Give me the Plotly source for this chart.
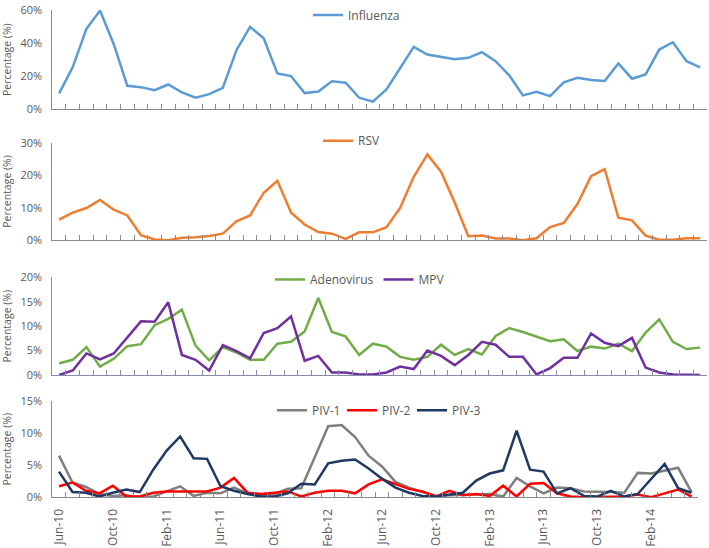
import plotly.graph_objects as go
import pandas as pd

months = pd.date_range("2010-06-01", periods=48, freq="MS").strftime("%b-%y").tolist()
tick_labels = ["Jun-10", "Oct-10", "Feb-11", "Jun-11", "Oct-11", "Feb-12",
               "Jun-12", "Oct-12", "Feb-13", "Jun-13", "Oct-13", "Feb-14"]

influenza = [9.6, 25.5, 48.6, 59.6, 39.5, 14.2, 13.4, 11.6, 15.0, 10.2,
             7.0, 9.2, 13.0, 35.7, 49.8, 42.9, 21.7, 20.1, 9.8, 10.8,
             16.9, 16.1, 7.0, 4.6, 12.0, 24.5, 37.7, 33.1, 31.5, 30.3,
             31.1, 34.5, 29.1, 20.5, 8.4, 10.6, 8.0, 16.3, 19.1, 17.7,
             17.1, 27.7, 18.5, 21.1, 36.1, 40.5, 29.1, 25.3]
rsv = [6.3, 8.5, 9.9, 12.4, 9.4, 7.6, 1.5, 0.2, 0.0, 0.7,
       0.9, 1.3, 2.0, 5.8, 7.6, 14.6, 18.3, 8.5, 4.8, 2.5,
       2.0, 0.4, 2.4, 2.4, 4.0, 9.9, 19.5, 26.4, 21.1, 11.6,
       1.2, 1.4, 0.5, 0.5, 0.0, 0.6, 4.0, 5.3, 11.1, 19.7,
       21.9, 6.9, 6.1, 1.4, 0.1, 0.1, 0.6, 0.6]
adenovirus = [2.4, 3.1, 5.7, 1.7, 3.3, 5.9, 6.3, 10.2, 11.5, 13.4,
              6.0, 3.0, 5.7, 4.6, 3.1, 3.1, 6.4, 6.8, 8.9, 15.8,
              8.8, 7.9, 4.1, 6.4, 5.8, 3.7, 3.1, 3.7, 6.2, 4.1,
              5.3, 4.2, 8.0, 9.6, 8.8, 7.8, 6.9, 7.3, 4.9, 5.8,
              5.4, 6.4, 4.9, 8.7, 11.4, 6.8, 5.3, 5.6]
mpv = [0.0, 0.9, 4.4, 3.2, 4.4, 7.6, 11.0, 10.9, 14.9, 4.1,
       3.1, 0.9, 6.1, 4.9, 3.4, 8.6, 9.6, 12.0, 2.9, 3.9,
       0.5, 0.5, 0.1, 0.1, 0.5, 1.7, 1.2, 5.0, 3.9, 2.0,
       4.1, 6.8, 6.2, 3.7, 3.7, 0.1, 1.4, 3.5, 3.5, 8.5,
       6.6, 5.9, 7.6, 1.5, 0.5, 0.1, 0.0, 0.0]
piv1 = [6.5, 2.3, 1.6, 0.5, 0.2, 0.3, 0.0, 0.1, 0.9, 1.7,
        0.2, 0.7, 0.6, 1.5, 0.6, 0.4, 0.5, 1.3, 1.4, 6.3,
        11.1, 11.3, 9.4, 6.5, 4.8, 2.4, 1.5, 0.8, 0.2, 0.3,
        0.4, 0.4, 0.5, 0.1, 3.0, 1.7, 0.6, 1.5, 1.4, 0.9,
        0.9, 0.8, 0.7, 3.8, 3.7, 4.1, 4.6, 0.8]
piv2 = [1.7, 2.3, 1.0, 0.6, 1.8, 0.1, 0.1, 0.7, 0.9, 0.9,
        1.0, 0.9, 1.5, 3.0, 0.7, 0.5, 0.7, 0.9, 0.1, 0.7,
        1.0, 1.0, 0.6, 2.0, 2.8, 2.1, 1.3, 0.9, 0.1, 1.0,
        0.3, 0.5, 0.2, 1.8, 0.1, 2.1, 2.2, 0.6, 0.1, 0.0,
        0.0, 0.1, 0.1, 0.4, 0.0, 0.6, 1.2, 0.1]
piv3 = [4.0, 0.8, 0.7, 0.1, 0.7, 1.2, 0.8, 4.3, 7.3, 9.5,
        6.1, 6.0, 1.7, 1.0, 0.5, 0.1, 0.1, 0.6, 2.1, 2.0,
        5.3, 5.7, 5.9, 4.5, 2.9, 1.5, 0.7, 0.2, 0.1, 0.4,
        0.7, 2.6, 3.7, 4.2, 10.4, 4.3, 4.0, 0.6, 1.4, 0.2,
        0.1, 1.0, 0.1, 0.5, 2.9, 5.2, 1.4, 0.7]

W, H = 709, 548
FONT = "Open Sans"
TXT = "#595959"
AX = "#8C8C8C"

ticktext = [m if m in tick_labels else "" for m in months]

panels = [
    dict(series=[("Influenza", influenza, "#5B9BD5")], top=60, dtick=20, axc=AX,
         ypx=(5, 105.3), xpx=(52.3, 707), legend=dict(x=308, y=10, ew=None)),
    dict(series=[("RSV", rsv, "#ED7D31")], top=30, dtick=10, axc=AX,
         ypx=(139, 237.3), xpx=(52.3, 707), legend=dict(x=318, y=137, ew=None)),
    dict(series=[("Adenovirus", adenovirus, "#70AD47"), ("MPV", mpv, "#7030A0")],
         top=20, dtick=5, axc="#8A8AAE",
         ypx=(275, 373.3), xpx=(52.3, 707), legend=dict(x=270, y=277, ew=None)),
    dict(series=[("PIV-1", piv1, "#7F7F7F"), ("PIV-2", piv2, "#FF0000"), ("PIV-3", piv3, "#1F3864")],
         top=15, dtick=5, axc=AX,
         ypx=(400, 496.7), xpx=(52.3, 698.3), legend=dict(x=272, y=409, ew=25)),
]

fig = go.Figure()
layout = dict(width=W, height=H, margin=dict(l=0, r=0, t=0, b=0),
              paper_bgcolor="white", plot_bgcolor="white", showlegend=True,
              font=dict(family=FONT, color=TXT), template="none")

for k, p in enumerate(panels, start=1):
    sfx = "" if k == 1 else str(k)
    lg = "legend" if k == 1 else f"legend{k}"
    for name, vals, col in p["series"]:
        fig.add_trace(go.Scatter(x=months, y=vals, mode="lines", name=name,
                                 line=dict(color=col, width=2.5),
                                 xaxis=f"x{sfx}", yaxis=f"y{sfx}", legend=lg))
    y0, y1 = p["ypx"]
    x0, x1 = p["xpx"]
    layout[f"xaxis{sfx}"] = dict(
        type="category", domain=[x0 / W, x1 / W], anchor=f"y{sfx}",
        range=[-0.5, len(months) - 0.5],
        tickmode="array", tickvals=months, ticktext=ticktext,
        tickson="boundaries", ticks="inside", ticklen=5, tickcolor=p["axc"], tickwidth=1,
        showline=True, linecolor=p["axc"], linewidth=1, showgrid=False, zeroline=False,
        showticklabels=(k == 4), tickangle=-90, ticklabelstandoff=6,
        ticklabeloverflow="allow",
        tickfont=dict(family=FONT, size=12, color=TXT), automargin=False)
    layout[f"yaxis{sfx}"] = dict(
        domain=[1 - y1 / H, 1 - y0 / H], anchor=f"x{sfx}",
        range=[0, p["top"]], tickmode="linear", tick0=0, dtick=p["dtick"],
        ticksuffix="%", ticks="", showline=True, linecolor=p["axc"], linewidth=1,
        showgrid=False, zeroline=False, automargin=False,
        ticklabelstandoff=7, ticklabeloverflow="allow",
        tickfont=dict(family=FONT, size=11, color=TXT),
        title=dict(text="Percentage (%)", font=dict(family=FONT, size=10.5, color=TXT),
                   standoff=6))
    leg = dict(orientation="h", x=p["legend"]["x"] / W, y=1 - p["legend"]["y"] / H,
               xanchor="left", yanchor="middle", bgcolor="rgba(0,0,0,0)",
               font=dict(family=FONT, size=12, color=TXT),
               itemwidth=30, tracegroupgap=0)
    if p["legend"]["ew"]:
        leg["entrywidth"] = p["legend"]["ew"]
    layout[lg] = leg

fig.update_layout(**layout)
fig.write_html("out.html", config={"displayModeBar": False},
               post_script="document.body.style.margin='0px';")
